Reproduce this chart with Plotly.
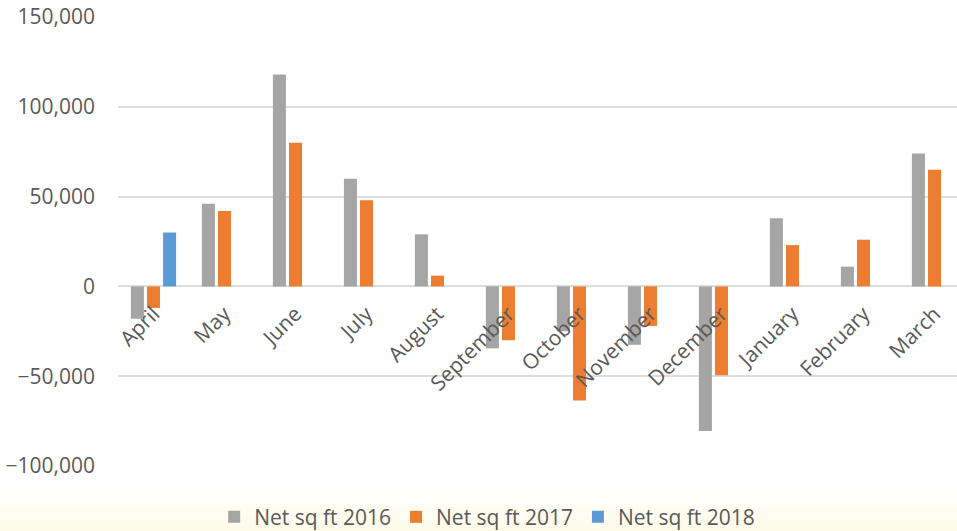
import plotly.graph_objects as go

months = ["April", "May", "June", "July", "August", "September", "October",
          "November", "December", "January", "February", "March"]
net_2016 = [-18000, 46000, 118000, 60000, 29000, -34500, -25000, -32500, -80500, 38000, 11000, 74000]
net_2017 = [-12000, 42000, 80000, 48000, 6000, -30000, -63500, -22000, -49500, 23000, 26000, 65000]
net_2018 = [30000, None, None, None, None, None, None, None, None, None, None, None]
series_names = ["Net sq ft 2016", "Net sq ft 2017", "Net sq ft 2018"]
colors = ["#A5A5A5", "#ED7D31", "#5B9BD5"]
y_ticks = [-100000, -50000, 0, 50000, 100000, 150000]

fig = go.Figure()
for name, vals, col in zip(series_names, [net_2016, net_2017, net_2018], colors):
    fig.add_trace(go.Bar(x=list(range(len(months))), y=vals, name=name,
                         marker=dict(color=col, line=dict(width=0))))

# subtle cream gradient band at the bottom
bands = [(-0.06, -0.09, "#FFFEF8"), (-0.09, -0.115, "#FFFDF2"), (-0.115, -0.135, "#FEFCED"), (-0.135, -0.2, "#FEFBE8")]
for y0, y1, c in bands:
    fig.add_shape(type="rect", xref="paper", yref="paper", x0=-0.3, x1=1.1, y0=y1, y1=y0,
                  fillcolor=c, line=dict(width=0), layer="below")

fig.update_layout(
    width=957, height=531,
    margin=dict(l=118, r=0, t=17, b=65, autoexpand=False),
    paper_bgcolor="white", plot_bgcolor="rgba(0,0,0,0)",
    font=dict(family="Open Sans", size=20, color="#595959"),
    barmode="group", bargap=0.32, bargroupgap=0.19,
    legend=dict(orientation="h", x=0.44, xanchor="center", y=-0.114, yanchor="middle",
                font=dict(size=21, color="#595959"), bgcolor="rgba(0,0,0,0)",
                traceorder="normal"),
    xaxis=dict(tickmode="array", tickvals=list(range(len(months))), ticktext=months,
               range=[-0.5, 11.317], tickangle=-45, anchor="free", position=0.4,
               showgrid=False, showline=False, ticks="outside", ticklen=6,
               tickcolor="rgba(0,0,0,0)", zeroline=False,
               tickfont=dict(size=21, color="#595959")),
    yaxis=dict(range=[-100000, 150000], tickvals=y_ticks, tickformat=",",
               showgrid=True, gridcolor="#DDDDDD", gridwidth=2,
               zeroline=True, zerolinecolor="#DDDDDD", zerolinewidth=2,
               showline=False, ticks="", ticklabelstandoff=22,
               tickfont=dict(size=21, color="#595959")),
    showlegend=True,
)

fig.write_html("out.html")
